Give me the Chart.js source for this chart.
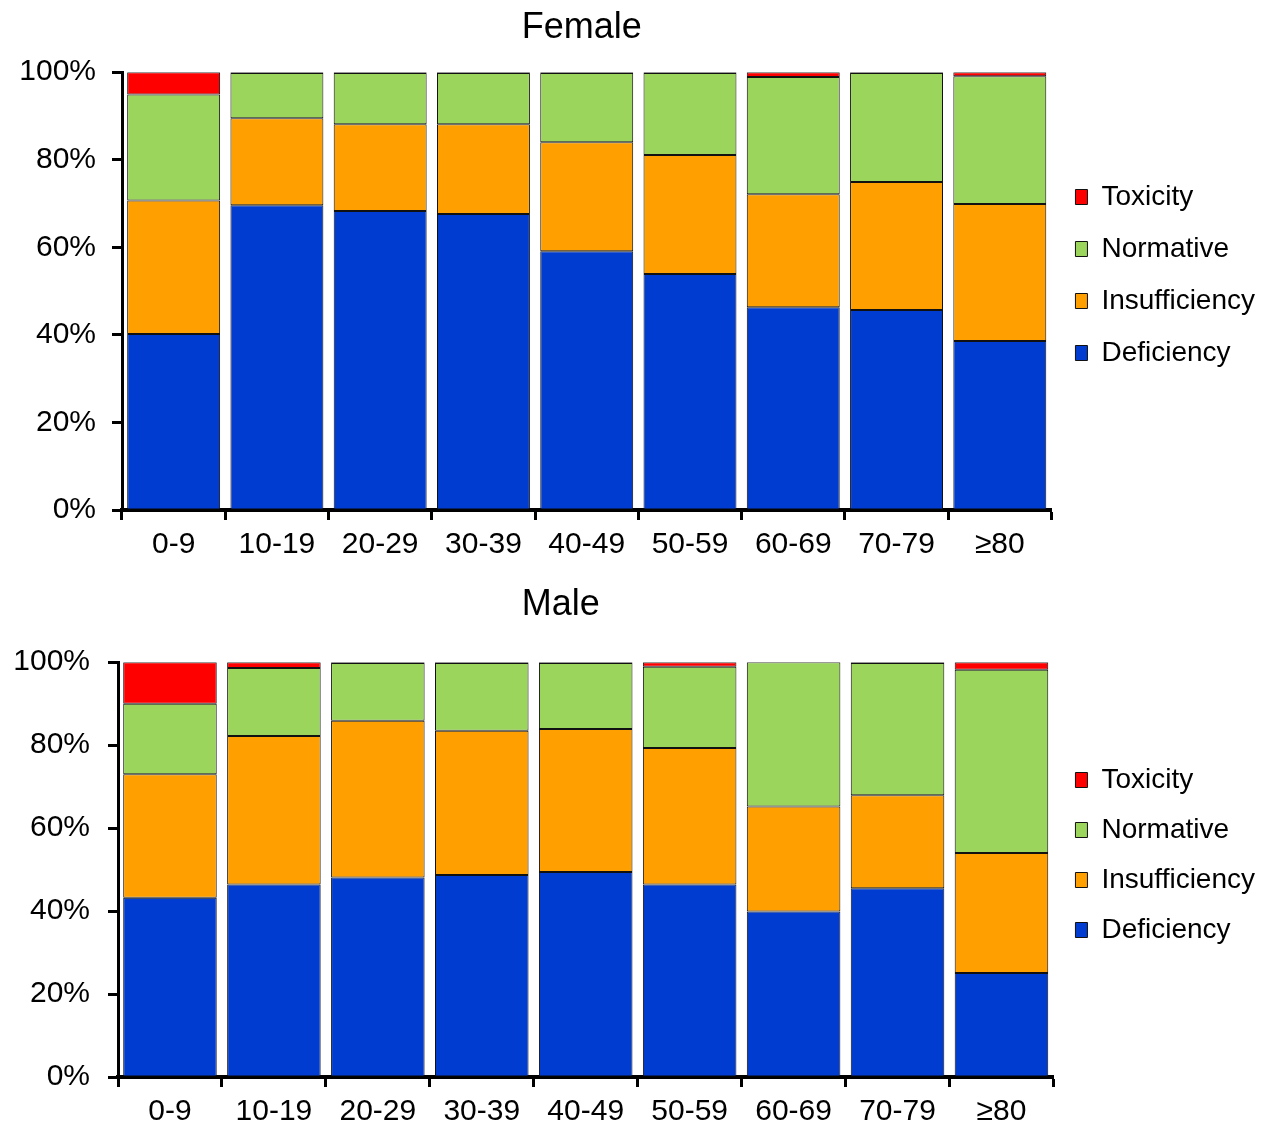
<!DOCTYPE html>
<html>
<head>
<meta charset="utf-8">
<script src="https://cdn.jsdelivr.net/npm/chart.js@4"></script>
<style>
    html, body { margin: 0; padding: 0; background: #fff; }
    .box { position: absolute; left: 0; width: 1265px; }
    #femaleBox { top: 0; height: 562px; }
    #maleBox { top: 570px; height: 555px; }
</style>
</head>
<body>
<div class="box" id="femaleBox"><canvas id="femaleChart"></canvas></div>
<div class="box" id="maleBox"><canvas id="maleChart"></canvas></div>
<script>
const ageGroups = ['0-9', '10-19', '20-29', '30-39', '40-49', '50-59', '60-69', '70-79', '\u226580'];
const yTickLabels = ['0%', '20%', '40%', '60%', '80%', '100%'];

// Female, % of each age group
const femaleDeficiency    = [40.2, 69.6, 68.3, 67.6, 59.1, 53.9, 46.3, 45.7, 38.6];
const femaleInsufficiency = [30.5, 19.9, 19.8, 20.5, 24.9, 27.2, 25.8, 29.2, 31.3];
const femaleNormative     = [24.2, 10.3, 11.7, 11.7, 15.8, 18.7, 26.8, 24.9, 29.2];
const femaleToxicity      = [5.1, 0.2, 0.2, 0.2, 0.2, 0.2, 1.1, 0.2, 0.9];

// Male, % of each age group
const maleDeficiency    = [43.2, 46.4, 48.1, 48.7, 49.4, 46.4, 39.9, 45.5, 25.1];
const maleInsufficiency = [29.8, 35.8, 37.8, 34.8, 34.5, 32.9, 25.3, 22.4, 28.9];
const maleNormative     = [17.0, 16.4, 13.9, 16.3, 15.9, 19.6, 34.8, 31.9, 44.2];
const maleToxicity      = [10.0, 1.4, 0.2, 0.2, 0.2, 1.1, 0.0, 0.2, 1.8];

const FONT = "'Liberation Sans', Arial, sans-serif";
Chart.defaults.font.family = FONT;
Chart.defaults.color = '#000';

function makeDatasets(def, ins, norm, tox) {
    const common = {
        borderColor: '#111',
        borderWidth: 1,
        borderSkipped: false,
        barPercentage: 0.9,
        categoryPercentage: 1.0
    };
    return [
        Object.assign({label: 'Deficiency', data: def, backgroundColor: '#003ccf'}, common),
        Object.assign({label: 'Insufficiency', data: ins, backgroundColor: '#ffa000'}, common),
        Object.assign({label: 'Normative', data: norm, backgroundColor: '#9bd55b'}, common),
        Object.assign({label: 'Toxicity', data: tox, backgroundColor: '#ff0000'}, common)
    ];
}

function makeChart(canvasId, title, datasets, s) {
    const canvas = document.getElementById(canvasId);

    let config = {
        type: 'bar',
        data: {
            labels: ageGroups,
            datasets: datasets
        },
        options: {
            responsive: true,
            maintainAspectRatio: false,
            animation: false,
            layout: { padding: 0 },
            plugins: {
                tooltip: { enabled: false },
                title: {
                    display: true,
                    text: title,
                    fullSize: false,
                    color: '#000',
                    font: { size: 36, weight: 'normal' },
                    padding: { top: s.titleTop, bottom: s.titleBottom }
                },
                legend: {
                    position: 'right',
                    align: 'start',
                    reverse: true,
                    // empty title only used to push the items down
                    title: {
                        display: true,
                        text: '',
                        font: { size: 10 },
                        padding: { top: s.legendOffset, bottom: 0 }
                    },
                    labels: {
                        boxWidth: 12,
                        boxHeight: 15,
                        padding: s.legendPadding,
                        color: '#000',
                        font: { size: 28 }
                    }
                }
            },
            scales: {
                x: {
                    stacked: true,
                    border: { display: true, color: '#000', width: 4 },
                    grid: {
                        display: true,
                        drawOnChartArea: false,
                        drawTicks: true,
                        tickLength: 10,
                        tickWidth: 3,
                        tickColor: '#000',
                        color: '#000'
                    },
                    ticks: {
                        padding: 7,
                        maxRotation: 0,
                        autoSkip: false,
                        color: '#000',
                        font: { size: 30 }
                    },
                    afterFit: (scale) => { scale.height = s.xHeight; }
                },
                y: {
                    stacked: true,
                    min: 0,
                    max: 100,
                    border: { display: true, color: '#000', width: 3 },
                    grid: {
                        display: true,
                        drawOnChartArea: false,
                        drawTicks: true,
                        tickLength: 10,
                        tickWidth: 3,
                        tickColor: '#000',
                        color: '#000'
                    },
                    ticks: {
                        stepSize: 20,
                        padding: s.yPad,
                        color: '#000',
                        font: { size: 30 },
                        callback: (value) => yTickLabels[Math.round(value / 20)]
                    },
                    afterFit: (scale) => { scale.width = s.yWidth; }
                }
            }
        }
    };

    return new Chart(canvas, config);
}

makeChart('femaleChart', 'Female ',
    makeDatasets(femaleDeficiency, femaleInsufficiency, femaleNormative, femaleToxicity),
    { titleTop: 6, titleBottom: 23, legendOffset: 147, legendPadding: 24, xHeight: 52, yWidth: 122, yPad: 16 });

makeChart('maleChart', 'Male     ',
    makeDatasets(maleDeficiency, maleInsufficiency, maleNormative, maleToxicity),
    { titleTop: 13, titleBottom: 36, legendOffset: 162, legendPadding: 22, xHeight: 48, yWidth: 118, yPad: 18 });
</script>
</body>
</html>
